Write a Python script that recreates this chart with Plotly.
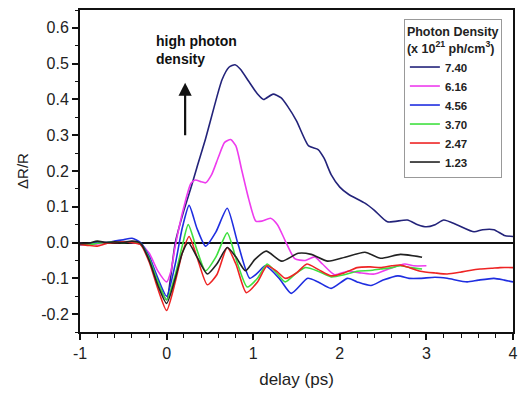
import plotly.graph_objects as go

# ---- data ----
names = ["7.40", "6.16", "4.56", "3.70", "2.47", "1.23"]
colors = ["#23237a", "#ee3cee", "#1f2ee0", "#3fe03f", "#ee2424", "#222222"]

x_740 = [-1.0, -0.9, -0.8, -0.7, -0.6, -0.5, -0.4, -0.3, -0.2, -0.1, 0.0, 0.05, 0.1, 0.2, 0.29, 0.35, 0.45,
         0.55, 0.64, 0.72, 0.79, 0.85, 0.95, 1.05, 1.12, 1.23, 1.32, 1.4, 1.5, 1.64, 1.75, 1.82, 1.9, 2.0,
         2.1, 2.29, 2.4, 2.55, 2.78, 2.9, 3.0, 3.1, 3.2, 3.35, 3.55, 3.65, 3.78, 3.9, 4.0]
y_740 = [-0.005, -0.004, -0.002, 0.0, 0.002, 0.003, 0.002, -0.005, -0.04, -0.11, -0.16, -0.09, 0.0, 0.09, 0.16,
         0.21, 0.29, 0.38, 0.455, 0.49, 0.497, 0.485, 0.45, 0.415, 0.40, 0.415, 0.405, 0.38, 0.34, 0.27,
         0.26, 0.235, 0.19, 0.155, 0.135, 0.11, 0.09, 0.058, 0.063, 0.05, 0.044, 0.05, 0.063, 0.05, 0.03,
         0.036, 0.036, 0.02, 0.017]

x_616 = [-1.0, -0.9, -0.8, -0.7, -0.6, -0.5, -0.4, -0.3, -0.2, -0.1, 0.0, 0.05, 0.1, 0.2, 0.28, 0.33, 0.4,
         0.45, 0.52, 0.6, 0.67, 0.74, 0.8, 0.87, 0.95, 1.03, 1.1, 1.2, 1.28, 1.37, 1.48, 1.6, 1.71, 1.8,
         1.94, 2.09, 2.25, 2.4, 2.55, 2.75, 2.85, 3.0]
y_616 = [-0.003, -0.005, -0.004, 0.0, 0.003, 0.002, 0.0, -0.004, -0.03, -0.08, -0.11, -0.08, -0.01, 0.1,
         0.165, 0.175, 0.17, 0.167, 0.19, 0.24, 0.28, 0.288, 0.27, 0.2, 0.12, 0.06, 0.06, 0.068, 0.05,
         0.005, -0.045, -0.05, -0.04, -0.06, -0.09, -0.08, -0.085, -0.088, -0.075, -0.06, -0.065, -0.065]

x_456 = [-1.0, -0.9, -0.8, -0.7, -0.6, -0.5, -0.4, -0.3, -0.2, -0.1, 0.0, 0.1, 0.18, 0.26, 0.35, 0.45,
         0.57, 0.7, 0.82, 0.96, 1.05, 1.14, 1.3, 1.44, 1.63, 1.75, 1.9, 2.09, 2.2, 2.36, 2.5, 2.67, 2.8,
         2.93, 3.1, 3.24, 3.47, 3.6, 3.78, 3.9, 4.0]
y_456 = [-0.006, -0.003, 0.002, 0.0, 0.004, 0.008, 0.012, 0.0, -0.04, -0.1, -0.15, -0.06, 0.04, 0.104, 0.04,
         -0.01, 0.03, 0.096, 0.0, -0.1, -0.085, -0.065, -0.1, -0.142, -0.1, -0.11, -0.128, -0.1, -0.11,
         -0.12, -0.105, -0.093, -0.1, -0.1, -0.097, -0.1, -0.11, -0.105, -0.1, -0.105, -0.11]

x_370 = [-1.0, -0.9, -0.8, -0.7, -0.6, -0.5, -0.4, -0.3, -0.2, -0.1, 0.0, 0.1, 0.18, 0.25, 0.35, 0.45,
         0.57, 0.7, 0.82, 0.93, 1.05, 1.16, 1.27, 1.37, 1.5, 1.6, 1.75, 1.9, 2.05, 2.2, 2.35, 2.47, 2.6,
         2.7, 2.82, 2.95]
y_370 = [-0.004, -0.006, -0.002, 0.0, 0.002, 0.0, 0.002, -0.003, -0.045, -0.11, -0.16, -0.09, -0.01, 0.05,
         -0.02, -0.079, -0.04, 0.027, -0.06, -0.124, -0.1, -0.06, -0.085, -0.11, -0.085, -0.07, -0.08,
         -0.096, -0.09, -0.08, -0.078, -0.074, -0.07, -0.065, -0.07, -0.074]

x_247 = [-1.0, -0.9, -0.8, -0.7, -0.6, -0.5, -0.4, -0.3, -0.2, -0.1, 0.0, 0.1, 0.18, 0.26, 0.35, 0.47,
         0.58, 0.7, 0.8, 0.92, 1.05, 1.16, 1.27, 1.37, 1.5, 1.62, 1.75, 1.9, 2.05, 2.2, 2.35, 2.47, 2.6,
         2.7, 2.8, 2.93, 3.1, 3.24, 3.39, 3.5, 3.62, 3.75, 3.85, 4.0]
y_247 = [-0.005, -0.008, -0.01, -0.003, 0.0, 0.002, 0.0, -0.006, -0.055, -0.13, -0.19, -0.11, -0.03, 0.017,
         -0.04, -0.118, -0.09, -0.014, -0.06, -0.14, -0.11, -0.065, -0.08, -0.1, -0.085, -0.06, -0.075,
         -0.093, -0.085, -0.07, -0.068, -0.07, -0.065, -0.063, -0.07, -0.08, -0.085, -0.088, -0.083,
         -0.078, -0.074, -0.072, -0.07, -0.07]

x_123 = [-1.0, -0.9, -0.8, -0.7, -0.6, -0.5, -0.4, -0.3, -0.2, -0.1, 0.0, 0.1, 0.18, 0.25, 0.35, 0.47,
         0.58, 0.7, 0.8, 0.91, 1.02, 1.15, 1.33, 1.52, 1.67, 1.86, 2.06, 2.29, 2.47, 2.7, 2.95]
y_123 = [-0.003, -0.002, 0.004, 0.0, 0.002, 0.0, 0.004, -0.002, -0.05, -0.12, -0.17, -0.1, -0.03, 0.0,
         -0.04, -0.088, -0.06, -0.014, -0.04, -0.079, -0.047, -0.024, -0.052, -0.03, -0.033, -0.052, -0.041,
         -0.027, -0.044, -0.033, -0.041]

series = [(x_740, y_740), (x_616, y_616), (x_456, y_456), (x_370, y_370), (x_247, y_247), (x_123, y_123)]

x_ticks = [-1, 0, 1, 2, 3, 4]
y_ticks = [-0.2, -0.1, 0.0, 0.1, 0.2, 0.3, 0.4, 0.5, 0.6]

FONT = "Arial, Liberation Sans, sans-serif"

fig = go.Figure()
for (xs, ys), nm, col in zip(series, names, colors):
    fig.add_trace(go.Scatter(x=xs, y=ys, mode="lines", name="<b>" + nm + "</b>",
                             line=dict(color=col, width=1.6, shape="spline", smoothing=0.6)))

fig.update_layout(
    width=526, height=394,
    margin=dict(l=80, r=9, t=8, b=62),
    paper_bgcolor="white", plot_bgcolor="white",
    font=dict(family=FONT, color="#222"),
    showlegend=True,
    legend=dict(
        x=0.748, y=0.972, xanchor="left", yanchor="top",
        bgcolor="white", bordercolor="#999", borderwidth=1,
        font=dict(size=11.5, color="#222"),
        title=dict(text="<b>Photon Density<br>(x 10<sup>21</sup> ph/cm<sup>3</sup>)</b>",
                   font=dict(size=12.5)),
        itemwidth=30, tracegroupgap=0,
    ),
    xaxis=dict(
        range=[-1, 4], tickvals=x_ticks, ticktext=[str(v) for v in x_ticks],
        ticks="outside", ticklen=6, tickwidth=1.5, tickcolor="#111",
        minor=dict(dtick=0.2, ticklen=4, tickwidth=1.2, tickcolor="#111", ticks="outside"),
        showline=True, linecolor="#111", linewidth=2, mirror=True,
        showgrid=False, zeroline=False,
        tickfont=dict(size=16),
        title=dict(text="delay (ps)", font=dict(size=17), standoff=12),
    ),
    yaxis=dict(
        range=[-0.25, 0.65], tickvals=y_ticks, ticktext=[f"{v:.1f}" for v in y_ticks],
        ticks="outside", ticklen=6, tickwidth=1.5, tickcolor="#111",
        minor=dict(dtick=0.05, tick0=0, ticklen=3, tickwidth=1.2, tickcolor="#111", ticks="outside"),
        showline=True, linecolor="#111", linewidth=2, mirror=True,
        showgrid=False, zeroline=True, zerolinecolor="#111", zerolinewidth=1.5,
        tickfont=dict(size=16),
        title=dict(text="ΔR/R", font=dict(size=15), standoff=9),
    ),
)

fig.add_annotation(x=0.214, y=0.447, ax=0.214, ay=0.296, xref="x", yref="y", axref="x", ayref="y",
                   text="", showarrow=True, arrowhead=2, arrowsize=1.2, arrowwidth=2.2, arrowcolor="#111")
fig.add_annotation(x=-0.14, y=0.59, xref="x", yref="y", xanchor="left", yanchor="top", align="left",
                   text="<b>high photon<br>density</b>", showarrow=False, font=dict(size=14, color="#111"))

fig.write_html("out.html")
